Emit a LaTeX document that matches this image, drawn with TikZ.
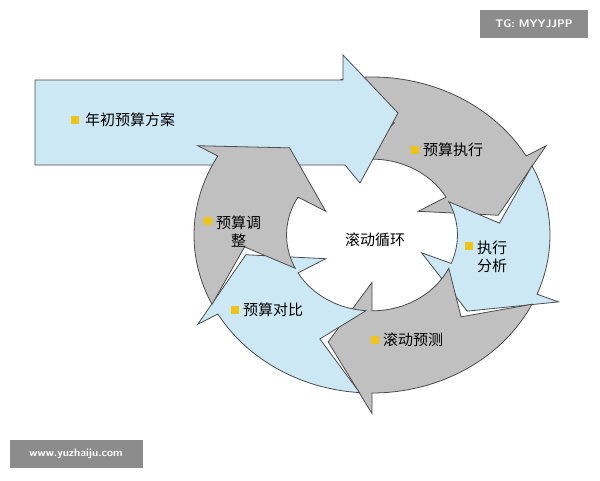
\documentclass[tikz,border=0pt]{standalone}
\usepackage{fontspec}
\setmainfont{Noto Sans CJK SC}
\begin{document}
\begin{tikzpicture}[x=1pt,y=-1pt,
  arr/.style={draw=black!70,line width=0.8pt,line join=miter},
  lbl/.style={font=\fontsize{15}{18}\selectfont,align=left,inner sep=1pt},
  wm/.style={fill=black!45,text=white,font=\sffamily\fontsize{11}{12}\selectfont\bfseries,inner sep=0pt}]
\definecolor{lb}{RGB}{205,232,245}
\definecolor{gr}{RGB}{192,192,192}
\definecolor{bul}{RGB}{240,196,20}
\useasboundingbox (0,0) rectangle (600,480);
\fill[white] (0,0) rectangle (600,480);
\newcommand\ptc[2]{({372+178*(#2)*cos(#1)},{235-158*(#2)*sin(#1)})}
\newcommand\cyc[3]{%
 \filldraw[arr,fill=#3] plot[domain=#1:#2,samples=40] ({372+178*cos(\x)},{235-158*sin(\x)})
  -- \ptc{#2}{1.13} -- \ptc{#2-20}{0.72} -- \ptc{#2}{0.3} -- \ptc{#2}{0.48}
  -- plot[domain=#2:#1,samples=40] ({372+178*0.48*cos(\x)},{235-158*0.48*sin(\x)})
  -- \ptc{#1-20}{0.72} -- cycle;}
\cyc{100}{30}{gr}
\cyc{26}{-22}{lb}
\cyc{-26}{-90}{gr}
\cyc{-94}{-150}{lb}
% big arrow
\filldraw[arr,fill=lb] (35,80) -- (343,80) -- (343,55) -- (398,113) -- (360,183) -- (345,165) -- (35,165) -- cycle;
\cyc{-154}{-210}{gr}
% labels
\node[lbl,anchor=west] (l0) at (84,120) {年初预算方案};
\node[lbl,anchor=west] (l1) at (422,150) {预算执行};
\node[lbl,anchor=west] (l2) at (476,257) {执行\\分析};
\node[lbl,anchor=west] (l3) at (382,340) {滚动预测};
\node[lbl,anchor=west] (l4) at (242,310) {预算对比};
\node[lbl,anchor=west,align=center] (l5) at (215,232) {预算调\\整};
\node[lbl] (c) at (375,240) {滚动循环};
\foreach \p in {(75,120),(415,150),(469,246),(375,340),(235,310),(208,221)}
  \fill[bul] \p ++(-4,-4) rectangle ++(8,8);
% watermarks
\node[wm,minimum width=108pt,minimum height=28pt] (w1) at (534,24) {TG: MYYJJPP};
\node[wm,minimum width=133pt,minimum height=28pt] (w2) at (76,454) {www.yuzhaiju.com};
\end{tikzpicture}
\end{document}
